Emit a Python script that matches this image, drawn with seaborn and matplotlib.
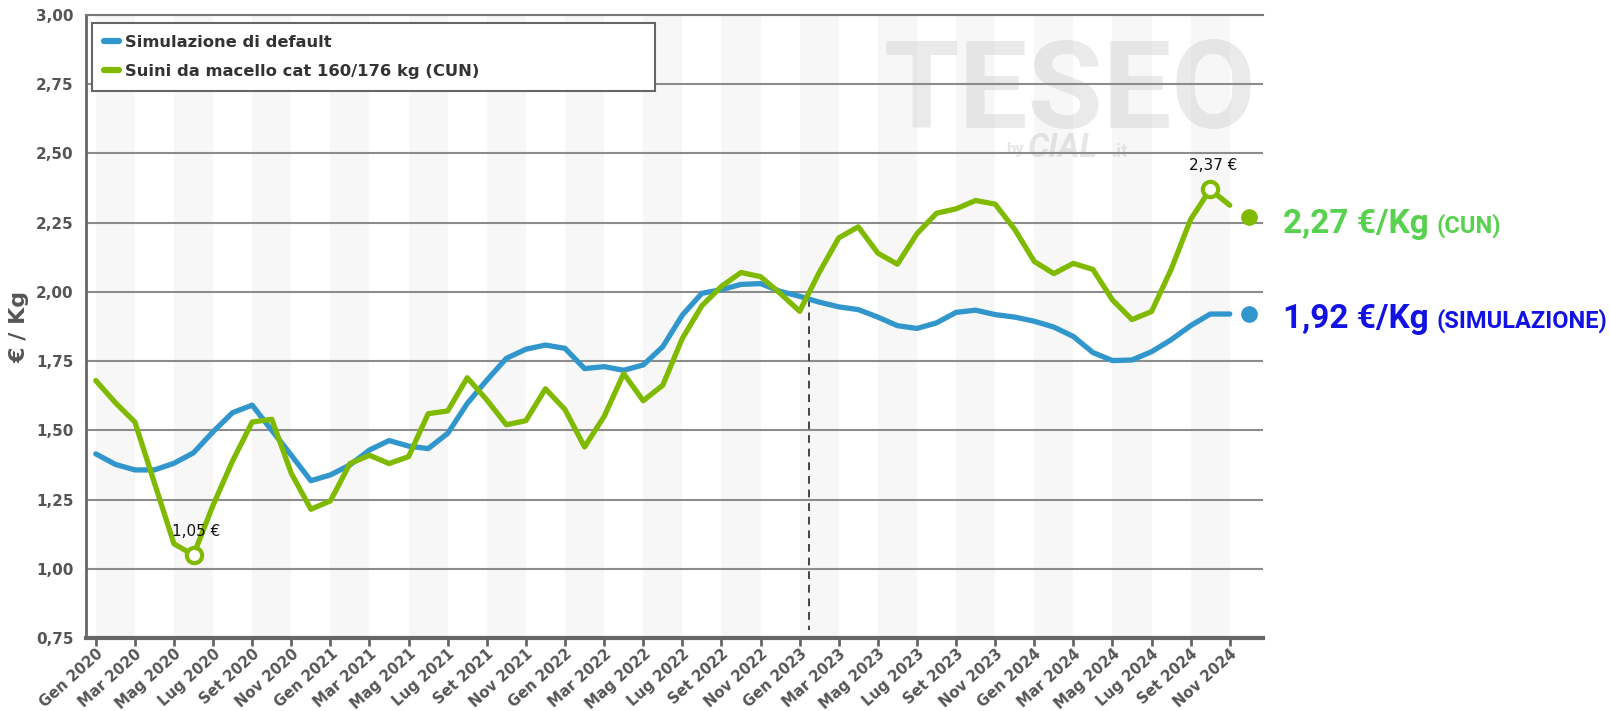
import numpy as np
import pandas as pd
import matplotlib
matplotlib.use("Agg")
import matplotlib.pyplot as plt
from matplotlib.lines import Line2D
import seaborn as sns

# ---------------- data ----------------
mesi = ["Gen", "Feb", "Mar", "Apr", "Mag", "Giu", "Lug", "Ago", "Set", "Ott", "Nov", "Dic"]
anni = [2020, 2021, 2022, 2023, 2024]
mesi_labels = [f"{m} {a}" for a in anni for m in mesi][:59]

simulazione = [1.415, 1.377, 1.357, 1.357, 1.381, 1.419, 1.495, 1.564, 1.591, 1.50,
               1.41, 1.318, 1.339, 1.375, 1.429, 1.463, 1.443, 1.434, 1.489, 1.597,
               1.681, 1.760, 1.793, 1.808, 1.796, 1.723, 1.730, 1.717, 1.736, 1.802,
               1.916, 1.995, 2.008, 2.027, 2.030, 2.002, 1.984, 1.963, 1.946, 1.936,
               1.909, 1.878, 1.868, 1.888, 1.926, 1.934, 1.918, 1.909, 1.894, 1.873,
               1.839, 1.781, 1.752, 1.754, 1.784, 1.827, 1.878, 1.920, 1.920]

cun = [1.68, 1.60, 1.53, 1.31, 1.09, 1.05, 1.23, 1.39, 1.53, 1.54,
       1.345, 1.215, 1.245, 1.38, 1.41, 1.38, 1.405, 1.56, 1.57, 1.69,
       1.61, 1.52, 1.535, 1.65, 1.575, 1.44, 1.55, 1.705, 1.607, 1.663,
       1.832, 1.95, 2.02, 2.07, 2.055, 1.995, 1.93, 2.07, 2.195, 2.235,
       2.14, 2.10, 2.21, 2.284, 2.30, 2.33, 2.317, 2.226, 2.11, 2.066,
       2.103, 2.081, 1.971, 1.90, 1.929, 2.081, 2.262, 2.37, 2.313]

serie_nomi = ["Simulazione di default", "Suini da macello cat 160/176 kg (CUN)"]
valori_finali = [1.92, 2.27]          # end dots (Dic 2024)
etichette_finali = ["1,92 €/Kg", "2,27 €/Kg"]
sottotitoli_finali = ["(SIMULAZIONE)", "(CUN)"]
indice_oggi = 36.5                    # dashed "today" marker (Gen 2023)
y_ticks = [0.75, 1.00, 1.25, 1.50, 1.75, 2.00, 2.25, 2.50, 2.75, 3.00]

# ---------------- style ----------------
sns.set_style("white")
plt.rcParams["font.family"] = ["DejaVu Sans"]

BLUE = "#3096cc"
GREEN = "#7fba00"
TXT_GREEN = "#58d14e"
TXT_BLUE = "#1212e2"
GRAY = "#555555"

W, H = 1610, 711
fig = plt.figure(figsize=(W / 100, H / 100), dpi=100)
ax = fig.add_axes([86 / W, 1 - 638 / H, (1263 - 86) / W, (638 - 15) / H])

n = len(cun)
x = np.arange(n)
df = pd.DataFrame({"idx": np.concatenate([x, x]),
                   "valore": simulazione + cun,
                   "serie": [serie_nomi[0]] * n + [serie_nomi[1]] * n})

# alternating bands every two months
for s in range(0, n, 4):
    ax.axvspan(s, min(s + 2, n - 1), color="#f7f7f7", zorder=0.1, lw=0)

sns.lineplot(data=df, x="idx", y="valore", hue="serie",
             palette={serie_nomi[0]: BLUE, serie_nomi[1]: GREEN},
             linewidth=3.8, ax=ax, legend=False, zorder=3)

# min / max markers
cun_arr = np.array(cun)
i_min, i_max = int(np.argmin(cun_arr)), int(np.argmax(cun_arr))
for i in (i_min, i_max):
    ax.plot([x[i]], [cun_arr[i]], marker="o", ms=11, mfc="white", mec=GREEN,
            mew=3, zorder=4, ls="none")
    ax.annotate(f"{cun_arr[i]:.2f} €".replace(".", ","), (x[i], cun_arr[i]),
                xytext=(2, 17), textcoords="offset points", ha="center",
                va="center", fontsize=11, color="#111111", zorder=5)

# end dots
ax.plot([n], [valori_finali[1]], "o", color=GREEN, ms=11, clip_on=False, zorder=4)
ax.plot([n], [valori_finali[0]], "o", color=BLUE, ms=11, clip_on=False, zorder=4)

# dashed vertical marker
y_start = np.interp(indice_oggi, x, simulazione)
ax.plot([indice_oggi, indice_oggi], [y_start, 0.78], ls=(0, (4, 3)),
        color="#444444", lw=1.4, zorder=2.5)

# axes
ax.set_xlim(-0.5, 59.7)
ax.set_ylim(0.75, 3.0)
ax.set_yticks(y_ticks)
ax.set_yticklabels([f"{v:.2f}".replace(".", ",") for v in y_ticks],
                   fontsize=11, fontweight="bold", color=GRAY)
ax.set_xticks(x[::2])
ax.set_xticklabels(mesi_labels[::2], rotation=42, ha="right",
                   rotation_mode="anchor", fontsize=10.7, fontweight="bold",
                   color=GRAY)
ax.tick_params(axis="y", length=0, pad=9)
ax.tick_params(axis="x", length=6, width=2, color="#666666", pad=0,
               direction="out", bottom=True)
ax.set_xlabel("")
ax.set_ylabel("")
ax.set_axisbelow(True)
ax.yaxis.grid(True, color="#8c8c8c", lw=1.5)
ax.xaxis.grid(False)
ax.spines["right"].set_visible(False)
ax.spines["top"].set_color("#777777")
ax.spines["top"].set_linewidth(1.5)
ax.spines["left"].set_color("#666666")
ax.spines["left"].set_linewidth(2)
ax.spines["bottom"].set_color("#666666")
ax.spines["bottom"].set_linewidth(3)

fig.text(19 / W, 1 - 327 / H, "€ / Kg", rotation=90, ha="center", va="center",
         fontsize=16, fontweight="bold", color=GRAY)

# watermark
ax.text(883 / W, 1 - 128 / H, "TESEO", transform=fig.transFigure,
        fontsize=88, fontweight="bold", family="Roboto", color="#c8c8c8",
        alpha=0.38, ha="left", va="baseline", zorder=0.3)
ax.text(1006 / W, 1 - 154 / H, "by", transform=fig.transFigure,
        fontsize=12, fontweight="bold", family="Roboto", color="#c8c8c8",
        alpha=0.45, ha="left", va="baseline", zorder=0.3)
ax.text(1028 / W, 1 - 157 / H, "CIAL", transform=fig.transFigure,
        fontsize=24, fontweight="bold", style="italic", family="Roboto",
        color="#c8c8c8", alpha=0.45, ha="left", va="baseline", zorder=0.3)
ax.text(1112 / W, 1 - 157 / H, ".it", transform=fig.transFigure,
        fontsize=13, fontweight="bold", family="Roboto", color="#c8c8c8",
        alpha=0.45, ha="left", va="baseline", zorder=0.3)

# legend
handles = [Line2D([], [], color=BLUE, lw=4.5), Line2D([], [], color=GREEN, lw=4.5)]
leg = ax.legend(handles, serie_nomi, loc="upper left",
                bbox_to_anchor=(92 / W, 1 - 94 / H, (655 - 92) / W, (94 - 23) / H),
                bbox_transform=fig.transFigure, mode="expand", borderaxespad=0,
                handlelength=0.9, handletextpad=0.4, labelspacing=0.85,
                borderpad=0.72, fancybox=False, framealpha=1,
                prop={"family": "DejaVu Sans", "weight": "bold", "size": 11.8})
leg.get_frame().set_edgecolor("#666666")
leg.get_frame().set_linewidth(1.5)
for t in leg.get_texts():
    t.set_color("#333333")
leg.set_zorder(6)

# right-hand value labels
for val_lbl, sub_lbl, ybase, col in [
        (etichette_finali[1], sottotitoli_finali[1], 233, TXT_GREEN),
        (etichette_finali[0], sottotitoli_finali[0], 328, TXT_BLUE)]:
    t = fig.text(1283 / W, 1 - ybase / H, val_lbl, fontsize=24,
                 fontweight="bold", family="Roboto", color=col,
                 ha="left", va="baseline")
    fig.canvas.draw()
    bb = t.get_window_extent()
    fig.text((bb.x1 + 8) / W, 1 - ybase / H, sub_lbl, fontsize=17,
             fontweight="bold", family="Roboto", color=col,
             ha="left", va="baseline")

fig.savefig("out.png", dpi=100, facecolor="white")
